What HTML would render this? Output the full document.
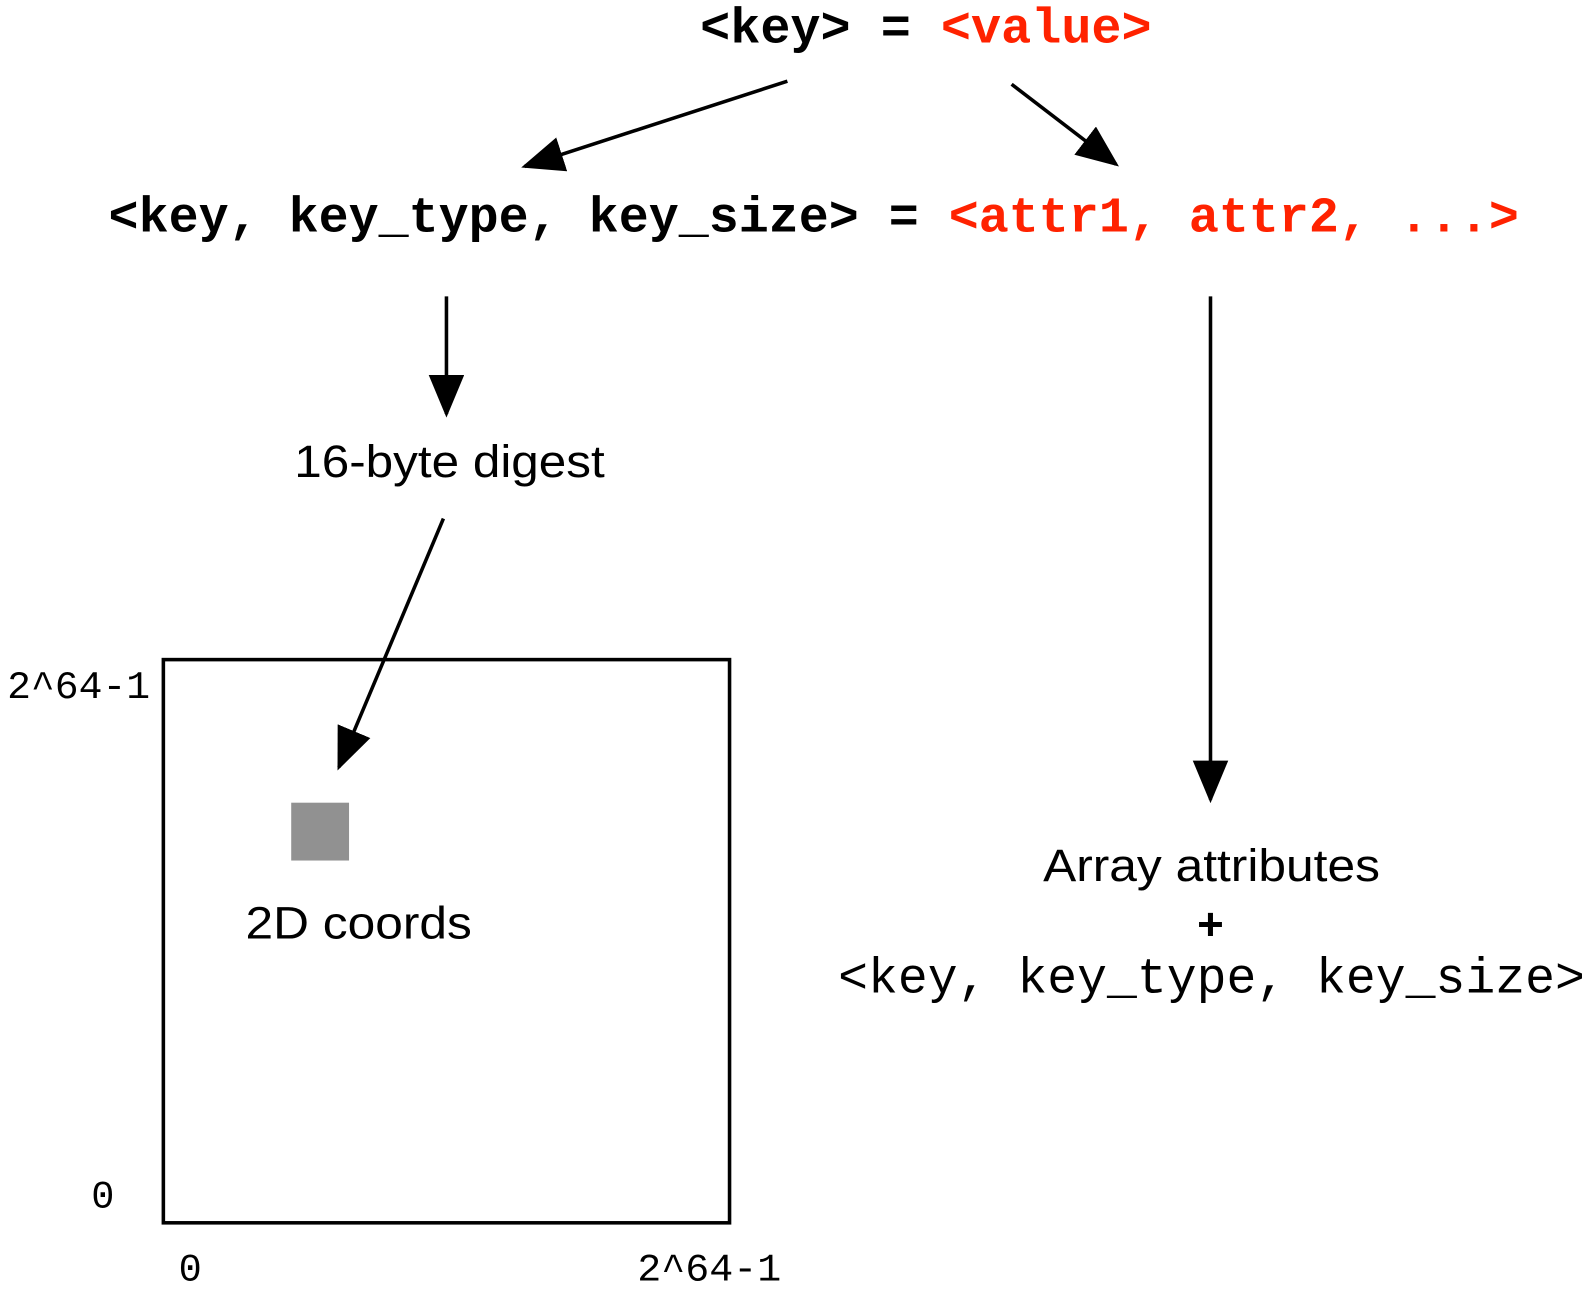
<!DOCTYPE html>
<html><head><meta charset="utf-8"><style>
html,body{margin:0;padding:0;background:#fff;width:1591px;height:1304px;overflow:hidden}
svg{display:block}
.cb{font-family:"Liberation Mono",monospace;font-weight:bold;font-size:49px}
.cr{font-family:"Liberation Mono",monospace;font-size:49px}
.cs{font-family:"Liberation Mono",monospace;font-size:38px}
.h{font-family:"Liberation Sans",sans-serif;font-size:45px}
</style></head><body>
<svg width="1591" height="1304" viewBox="0 0 1568 1285" preserveAspectRatio="none" xmlns="http://www.w3.org/2000/svg">
<defs><marker id="a" markerWidth="12" markerHeight="10" refX="11" refY="5" orient="auto" markerUnits="strokeWidth"><path d="M0,0 L12,5 L0,10 z" fill="#000"/></marker></defs>
<text x="690" y="42" class="cb" fill="#000" textLength="445" lengthAdjust="spacingAndGlyphs">&lt;key&gt; = <tspan fill="#ff2200">&lt;value&gt;</tspan></text>
<text x="107" y="228" class="cb" fill="#000" textLength="1390" lengthAdjust="spacingAndGlyphs">&lt;key, key_type, key_size&gt; = <tspan fill="#ff2200">&lt;attr1, attr2, ...&gt;</tspan></text>
<g stroke="#000" stroke-width="3.5" fill="none">
<line x1="776" y1="80" x2="517" y2="164" marker-end="url(#a)"/>
<line x1="997" y1="83" x2="1100" y2="162" marker-end="url(#a)"/>
<line x1="440" y1="292" x2="440" y2="408" marker-end="url(#a)"/>
<line x1="437" y1="511" x2="334" y2="756" marker-end="url(#a)"/>
<line x1="1193" y1="292" x2="1193" y2="788" marker-end="url(#a)"/>
<rect x="161" y="650" width="558" height="555"/>
</g>
<rect x="287" y="791" width="57" height="57" fill="#919191"/>
<text x="290" y="470" class="h" textLength="306" lengthAdjust="spacingAndGlyphs">16-byte digest</text>
<text x="242" y="925" class="h" textLength="223" lengthAdjust="spacingAndGlyphs">2D coords</text>
<text x="1028" y="868" class="h" textLength="332" lengthAdjust="spacingAndGlyphs">Array attributes</text>
<text x="1193" y="926" class="h" text-anchor="middle" font-weight="bold">+</text>
<text x="826" y="978" class="cr" textLength="736" lengthAdjust="spacingAndGlyphs">&lt;key, key_type, key_size&gt;</text>
<text x="7" y="688" class="cs" textLength="141" lengthAdjust="spacingAndGlyphs">2^64-1</text>
<text x="90" y="1190" class="cs">0</text>
<text x="176" y="1262" class="cs">0</text>
<text x="628" y="1262" class="cs" textLength="142" lengthAdjust="spacingAndGlyphs">2^64-1</text>
</svg>
</body></html>
